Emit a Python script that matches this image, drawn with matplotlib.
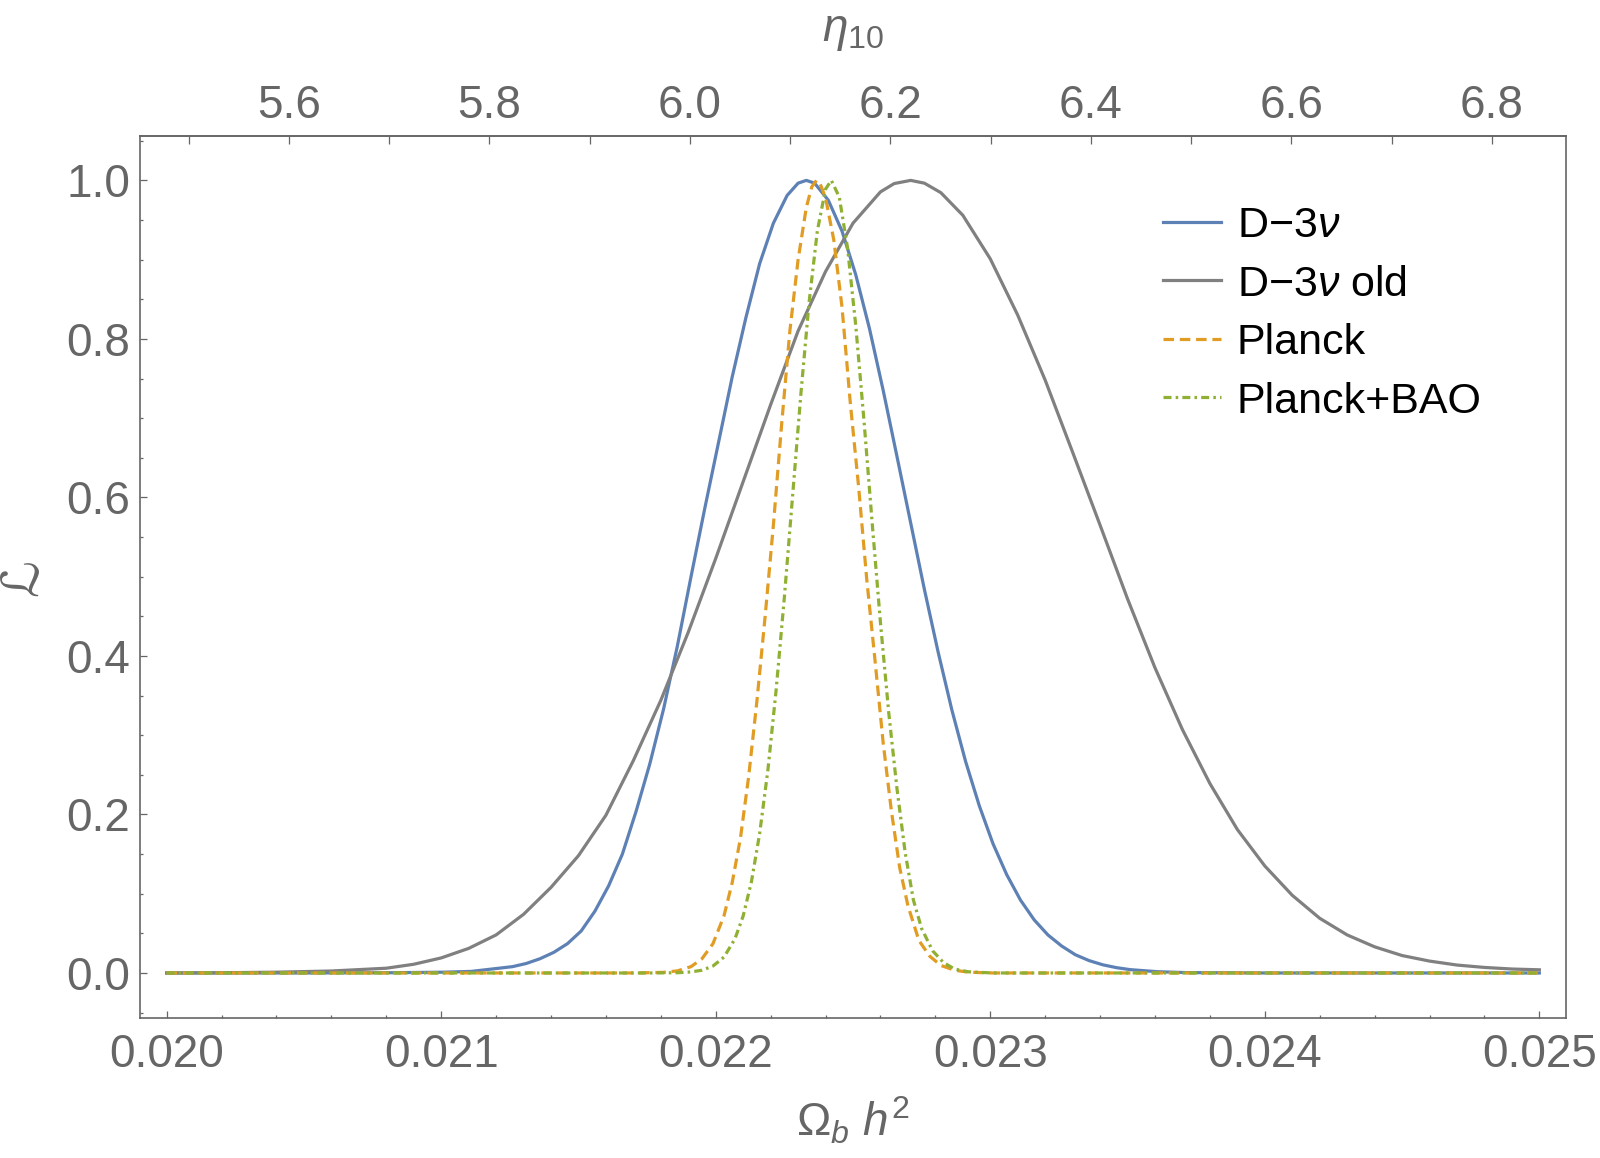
import matplotlib
matplotlib.use("Agg")
import matplotlib.pyplot as plt
from matplotlib.ticker import MultipleLocator, FormatStrFormatter

# ── données (Ωb h², vraisemblance normalisée) ──
omega_d3 = [0.0200, 0.0205, 0.02081, 0.02101, 0.02111, 0.02121, 0.02126, 0.02131,
            0.02136, 0.02141, 0.02146, 0.02151, 0.02156, 0.02161, 0.02166, 0.02171,
            0.02176, 0.02181, 0.02186, 0.02191, 0.02196, 0.02201, 0.02206, 0.02211,
            0.02216, 0.02221, 0.02226, 0.02230, 0.02233, 0.02236, 0.02241, 0.02246,
            0.02251, 0.02256, 0.02261, 0.02266, 0.02271, 0.02276, 0.02281, 0.02286,
            0.02291, 0.02296, 0.02301, 0.02306, 0.02311, 0.02316, 0.02321, 0.02326,
            0.02331, 0.02336, 0.02341, 0.02346, 0.02351, 0.02361, 0.02371, 0.0240, 0.0250]
lik_d3 = [0.0, 0.0, 0.0003, 0.001, 0.002, 0.006, 0.008, 0.012,
          0.018, 0.026, 0.037, 0.053, 0.078, 0.110, 0.150, 0.204,
          0.264, 0.333, 0.412, 0.500, 0.586, 0.669, 0.752, 0.827,
          0.895, 0.946, 0.981, 0.9965, 1.0, 0.9965, 0.975, 0.936,
          0.881, 0.813, 0.735, 0.652, 0.568, 0.484, 0.405, 0.332,
          0.267, 0.211, 0.163, 0.124, 0.092, 0.067, 0.048, 0.034,
          0.023, 0.0156, 0.0103, 0.0067, 0.0042, 0.0016, 0.0005, 0.0, 0.0]

omega_old = [0.0200, 0.0202, 0.0204, 0.0206, 0.0208, 0.0209, 0.0210, 0.0211, 0.0212,
             0.0213, 0.0214, 0.0215, 0.0216, 0.0217, 0.0218, 0.0219, 0.0220, 0.0221,
             0.0222, 0.0223, 0.0224, 0.0225, 0.0226, 0.02265, 0.02271, 0.02276, 0.02282,
             0.0229, 0.0230, 0.0231, 0.0232, 0.0233, 0.0234, 0.0235, 0.0236, 0.0237,
             0.0238, 0.0239, 0.0240, 0.0241, 0.0242, 0.0243, 0.0244, 0.0245, 0.0246,
             0.0247, 0.0248, 0.0249, 0.0250]
lik_old = [0.0, 0.0003, 0.001, 0.0025, 0.006, 0.011, 0.019, 0.031, 0.048,
           0.074, 0.108, 0.148, 0.199, 0.268, 0.344, 0.430, 0.523, 0.620,
           0.717, 0.810, 0.885, 0.946, 0.9855, 0.996, 1.0, 0.9965, 0.9845,
           0.956, 0.901, 0.830, 0.748, 0.657, 0.565, 0.472, 0.385, 0.307,
           0.239, 0.181, 0.135, 0.098, 0.069, 0.048, 0.033, 0.022, 0.015,
           0.010, 0.007, 0.005, 0.004]

omega_planck = [0.0200, 0.02171, 0.02181, 0.02186, 0.02191, 0.02195, 0.02199, 0.02203,
                0.02206, 0.02209, 0.02212, 0.02215, 0.02218, 0.02221, 0.02224, 0.02227,
                0.02230, 0.02233, 0.02235, 0.022367, 0.02238, 0.02240, 0.02243, 0.02246,
                0.02249, 0.02252, 0.02255, 0.02258, 0.02261, 0.02264, 0.02267, 0.02270,
                0.02274, 0.02278, 0.02282, 0.02287, 0.02292, 0.02301, 0.0250]
lik_planck = [0.0, 0.0, 0.0008, 0.0026, 0.008, 0.018, 0.037, 0.072,
              0.114, 0.170, 0.248, 0.343, 0.450, 0.565, 0.692, 0.810,
              0.900, 0.966, 0.992, 1.0, 0.996, 0.978, 0.925, 0.840,
              0.720, 0.615, 0.497, 0.395, 0.290, 0.204, 0.133, 0.085,
              0.041, 0.021, 0.0095, 0.0035, 0.001, 0.0, 0.0]

omega_bao = [0.0200, 0.02176, 0.02186, 0.02191, 0.02195, 0.02199, 0.02203, 0.02207,
             0.02210, 0.02213, 0.02216, 0.02219, 0.02222, 0.02225, 0.02228, 0.02231,
             0.02234, 0.02237, 0.02240, 0.022421, 0.02245, 0.02248, 0.02251, 0.02254,
             0.02257, 0.02260, 0.02263, 0.02266, 0.02269, 0.02272, 0.02275, 0.02279,
             0.02283, 0.02287, 0.02292, 0.02301, 0.0250]
lik_bao = [0.0, 0.0, 0.0003, 0.0013, 0.0035, 0.0088, 0.020, 0.043,
           0.072, 0.115, 0.176, 0.256, 0.357, 0.474, 0.602, 0.730,
           0.846, 0.936, 0.989, 1.0, 0.979, 0.915, 0.817, 0.697,
           0.567, 0.442, 0.329, 0.233, 0.152, 0.092, 0.056, 0.028,
           0.013, 0.005, 0.0015, 0.0, 0.0]

labels = [r"D$-$3$\nu$", r"D$-$3$\nu$ old", "Planck", "Planck+BAO"]
eta_par_omega = 273.9          # η10 = 273.9 Ωb h²

# ── style ───────────────────────────────────────────────────
plt.rcParams["font.family"] = ["Liberation Sans", "DejaVu Sans"]
plt.rcParams["mathtext.fontset"] = "custom"
plt.rcParams["mathtext.rm"] = "Liberation Sans"
plt.rcParams["mathtext.it"] = "Liberation Sans:italic"
plt.rcParams["mathtext.bf"] = "Liberation Sans:bold"

gris = "#666666"
bleu, grisc, orange, vert = "#5E81B5", "#808080", "#E19C24", "#8FB032"

fig = plt.figure(figsize=(16, 11.58), dpi=100)
ax = fig.add_axes([140/1600, 1 - 1018/1158, 1426/1600, 882/1158])

ax.plot(omega_d3, lik_d3, color=bleu, lw=2.3, label=labels[0])
ax.plot(omega_old, lik_old, color=grisc, lw=2.3, label=labels[1])
ax.plot(omega_planck, lik_planck, color=orange, lw=2.3, dashes=(3.3, 1.8), label=labels[2])
ax.plot(omega_bao, lik_bao, color=vert, lw=2.3, dashes=(2.5, 1.3, 0.8, 1.3), label=labels[3])

ax.set_xlim(0.019903, 0.025097)
ax.set_ylim(-0.0568, 1.056)

ax.xaxis.set_major_locator(MultipleLocator(0.001))
ax.xaxis.set_minor_locator(MultipleLocator(0.0002))
ax.xaxis.set_major_formatter(FormatStrFormatter("%.3f"))
ax.yaxis.set_major_locator(MultipleLocator(0.2))
ax.yaxis.set_minor_locator(MultipleLocator(0.05))
ax.yaxis.set_major_formatter(FormatStrFormatter("%.1f"))

ax.tick_params(axis="both", which="both", direction="in", color=gris, width=0.9,
               labelcolor=gris, labelsize=33, top=False, right=False)
ax.tick_params(axis="x", which="major", length=5, pad=10.5)
ax.tick_params(axis="x", which="minor", length=2.4)
ax.tick_params(axis="y", which="major", length=5, pad=7)
ax.tick_params(axis="y", which="minor", length=2.5)
for s in ax.spines.values():
    s.set_color(gris)
    s.set_linewidth(1.2)

# axe secondaire η10
sec = ax.secondary_xaxis("top", functions=(lambda w: w*eta_par_omega,
                                           lambda e: e/eta_par_omega))
sec.xaxis.set_major_locator(MultipleLocator(0.2))
sec.xaxis.set_minor_locator(MultipleLocator(0.1))
sec.xaxis.set_major_formatter(FormatStrFormatter("%.1f"))
sec.tick_params(axis="x", which="both", direction="in", color=gris, width=0.9,
                labelcolor=gris, labelsize=33, length=5.8, pad=6)
sec.spines["top"].set_color(gris)
sec.spines["top"].set_linewidth(1.2)

ax.set_xlabel(r"$\Omega_b\ h^2$", fontsize=33, color=gris)
ax.xaxis.set_label_coords(0.5, -0.087)
ax.set_ylabel("ℒ", fontsize=37, color=gris)
ax.yaxis.set_label_coords(-0.0645, 0.5)
ax.text(0.5, 1.094, r"$\eta_{10}$", transform=ax.transAxes, ha="center",
        va="bottom", fontsize=33, color=gris)

ax.legend(loc="upper left", bbox_to_anchor=(1163/1600, 1 - 206/1158),
          bbox_transform=fig.transFigure, frameon=False, fontsize=31,
          handlelength=1.34, handletextpad=0.37, labelspacing=0.43,
          borderpad=0, borderaxespad=0)

fig.savefig("out.png", dpi=100)
